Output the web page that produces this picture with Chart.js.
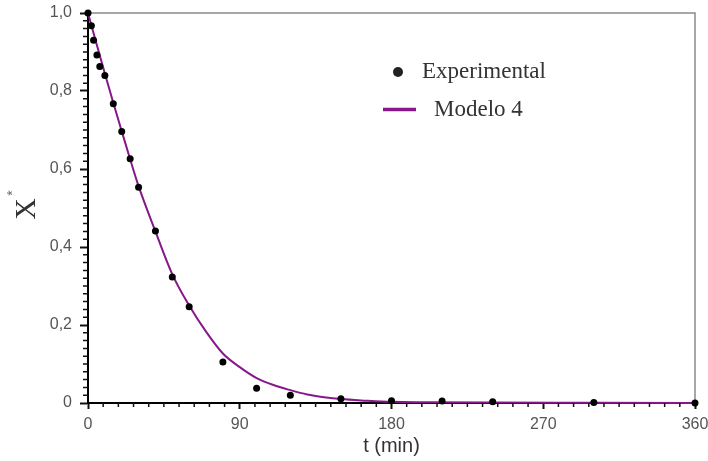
<!DOCTYPE html>
<html>
<head>
<meta charset="utf-8">
<script src="https://cdn.jsdelivr.net/npm/chart.js@4.4.1/dist/chart.umd.min.js"></script>
<style>
  html, body { margin: 0; padding: 0; background: #fff; }
  #wrap { width: 708px; height: 461px; position: relative; }
</style>
</head>
<body>
<div id="wrap"><canvas id="secagem"></canvas></div>
<script>
// experimental points, t (min) and X*
var expTime = [0, 2, 3.3, 5.3, 7, 10, 15, 20, 25, 30, 40, 50, 60, 80, 100, 120, 150, 180, 210, 240, 300, 360];
var expX = [1.0, 0.967, 0.930, 0.892, 0.863, 0.840, 0.767, 0.696, 0.626, 0.553, 0.441, 0.323, 0.247, 0.105, 0.038, 0.020, 0.011, 0.006, 0.005, 0.003, 0.001, 0.0];

// Modelo 4 curve
var modelTime = [0, 5, 10, 15, 20, 25, 30, 40, 50, 60, 70, 80, 90, 100, 110, 120, 130, 140, 150, 165, 180, 200, 240, 300, 360];
var modelX = [1.0, 0.922, 0.845, 0.770, 0.697, 0.625, 0.556, 0.440, 0.330, 0.250, 0.183, 0.127, 0.092, 0.064, 0.046, 0.033, 0.022, 0.015, 0.010, 0.006, 0.003, 0.002, 0.001, 0.0005, 0.0];

var xTicks = [0, 90, 180, 270, 360];
var yTicks = [0, 0.2, 0.4, 0.6, 0.8, 1.0];

var purple = '#86188a';
var sans = '"Liberation Sans", Arial, sans-serif';
var serif = '"Liberation Serif", "Times New Roman", serif';

function toPoints(xs, ys) {
  var out = [];
  for (var i = 0; i < xs.length; i++) out.push({ x: xs[i], y: ys[i] });
  return out;
}

// gray frame, minor ticks, y title and legend
var extras = {
  id: 'extras',
  beforeDatasetsDraw: function (chart) {
    var ctx = chart.ctx, a = chart.chartArea;
    ctx.save();
    ctx.strokeStyle = '#8a8a8a';
    ctx.lineWidth = 1.5;
    ctx.beginPath();
    ctx.moveTo(a.left, a.top);
    ctx.lineTo(a.right, a.top);
    ctx.lineTo(a.right, a.bottom);
    ctx.stroke();
    ctx.restore();
  },
  afterDraw: function (chart) {
    var ctx = chart.ctx, a = chart.chartArea;
    var xs = chart.scales.x, ys = chart.scales.y;
    var ds = chart.data.datasets;
    ctx.save();

    ctx.strokeStyle = '#111';
    ctx.lineWidth = 1.5;
    ctx.beginPath();
    for (var t = 9; t < 360; t += 9) {
      if (t % 90 === 0) continue;
      var px = xs.getPixelForValue(t);
      ctx.moveTo(px, a.bottom);
      ctx.lineTo(px, a.bottom + 4);
    }
    for (var k = 1; k < 50; k++) {
      if (k % 10 === 0) continue;
      var py = ys.getPixelForValue(k * 0.02);
      ctx.moveTo(a.left - 5, py);
      ctx.lineTo(a.left, py);
    }
    ctx.stroke();

    // y title X*
    ctx.translate(27, 209);
    ctx.rotate(-Math.PI / 2);
    ctx.fillStyle = '#333';
    ctx.textAlign = 'center';
    ctx.textBaseline = 'middle';
    ctx.font = '30px ' + serif;
    ctx.fillText('X', 0, 0);
    ctx.fillStyle = '#666';
    ctx.font = '14px ' + sans;
    ctx.fillText('*', 16, -14);
    ctx.setTransform(1, 0, 0, 1, 0, 0);

    // legend
    ctx.fillStyle = '#222';
    ctx.beginPath();
    ctx.arc(398, 72, 5, 0, Math.PI * 2);
    ctx.fill();
    ctx.strokeStyle = purple;
    ctx.lineWidth = 3.5;
    ctx.beginPath();
    ctx.moveTo(383, 109.5);
    ctx.lineTo(416, 109.5);
    ctx.stroke();
    ctx.fillStyle = '#333';
    ctx.textAlign = 'left';
    ctx.textBaseline = 'alphabetic';
    ctx.font = '23px ' + serif;
    ctx.fillText(ds[1].label, 422, 78);
    ctx.fillText(ds[0].label, 434, 116);
    ctx.restore();
  }
};

new Chart(document.getElementById('secagem'), {
  type: 'scatter',
  data: {
    datasets: [
      {
        label: 'Modelo 4',
        data: toPoints(modelTime, modelX),
        showLine: true,
        borderColor: purple,
        borderWidth: 2,
        pointRadius: 0,
        cubicInterpolationMode: 'monotone',
        clip: false,
        order: 1
      },
      {
        label: 'Experimental',
        data: toPoints(expTime, expX),
        showLine: false,
        backgroundColor: '#000',
        borderColor: '#000',
        pointRadius: 3.5,
        borderWidth: 0,
        clip: false,
        order: 0
      }
    ]
  },
  options: {
    responsive: true,
    maintainAspectRatio: false,
    animation: false,
    events: [],
    layout: { padding: { left: 0, top: 13, right: 13, bottom: 0 } },
    plugins: {
      legend: { display: false },
      tooltip: { enabled: false }
    },
    scales: {
      x: {
        type: 'linear',
        min: 0,
        max: 360,
        afterBuildTicks: function (s) { s.ticks = xTicks.map(function (v) { return { value: v }; }); },
        afterFit: function (s) { s.height = 58; s.paddingLeft = 0; s.paddingRight = 0; },
        ticks: {
          color: '#555',
          font: { family: sans, size: 16 },
          padding: 6,
          maxRotation: 0,
          callback: function (v) { return String(v); }
        },
        grid: { drawOnChartArea: false, tickLength: 6, tickColor: '#111', tickWidth: 2 },
        border: { color: '#000', width: 2 },
        title: {
          display: true,
          text: 't (min)',
          color: '#333',
          font: { family: sans, size: 20 },
          padding: { top: 0, bottom: 3 }
        }
      },
      y: {
        type: 'linear',
        min: 0,
        max: 1,
        afterBuildTicks: function (s) { s.ticks = yTicks.map(function (v) { return { value: v }; }); },
        afterFit: function (s) { s.width = 88; s.paddingTop = 0; s.paddingBottom = 0; },
        ticks: {
          color: '#555',
          font: { family: sans, size: 16 },
          padding: 8,
          callback: function (v) { return v === 0 ? '0' : v.toFixed(1).replace('.', ','); }
        },
        grid: { drawOnChartArea: false, tickLength: 8, tickColor: '#111', tickWidth: 2 },
        border: { color: '#000', width: 2 }
      }
    }
  },
  plugins: [extras]
});
</script>
</body>
</html>
